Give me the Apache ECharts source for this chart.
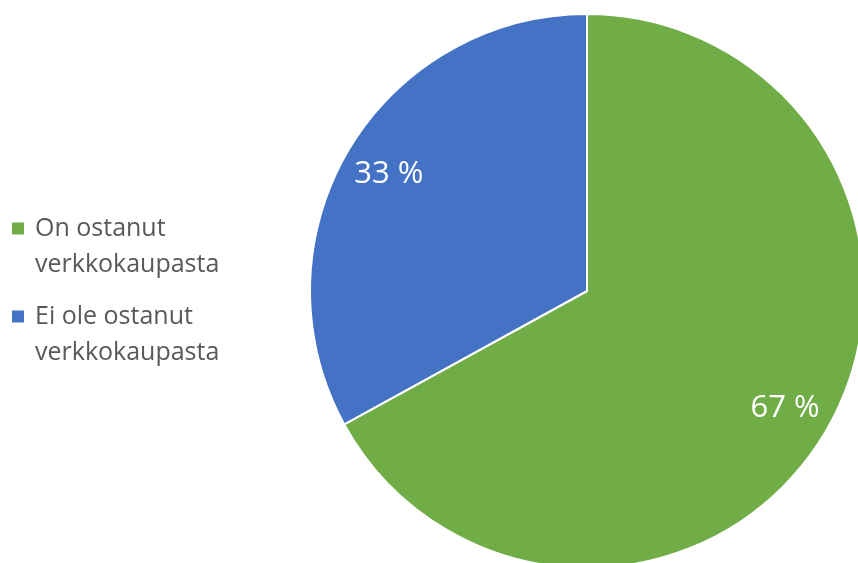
<!DOCTYPE html>
<html>
<head>
<meta charset="utf-8">
<style>
  html, body { margin: 0; padding: 0; background: #fff; }
  #chart { width: 858px; height: 563px; }
</style>
<script src="https://cdn.jsdelivr.net/npm/echarts@6/dist/echarts.min.js"></script>
</head>
<body>
<div id="chart"></div>
<script>
// Share of respondents who have bought from an online shop
const categories = ['On ostanut verkkokaupasta', 'Ei ole ostanut verkkokaupasta'];
const shares = [67, 33];
const colors = ['#70AD47', '#4472C4'];

const FONT = '"Open Sans", sans-serif';
const CENTER = [587, 291];
const R = 277;
const LINE_H = 36;

const pieData = categories.map((name, i) => ({
  name: name,
  value: shares[i],
  itemStyle: { color: colors[i] }
}));

// Legend labels wrap before the last word; each line is a rich-text run
function wrapName(name) {
  const words = name.split(' ');
  return '{t|' + words.slice(0, -1).join(' ') + '}\n{t|' + words[words.length - 1] + '}';
}

// one legend per entry so each can be placed on its own
const legendTop = [211, 299];

const chart = echarts.init(document.getElementById('chart'), null, { renderer: 'canvas' });
chart.setOption({
  animation: false,
  legend: categories.map((name, i) => ({
    data: [name],
    left: 5,
    top: legendTop[i],
    orient: 'vertical',
    icon: 'rect',
    itemWidth: 14,
    itemHeight: 14,
    itemGap: 0,
    selectedMode: false,
    formatter: wrapName,
    textStyle: {
      // top padding keeps the marker level with the first line
      padding: [LINE_H, 0, 0, 5],
      rich: {
        t: {
          fontFamily: FONT,
          fontSize: 25,
          color: '#595959',
          lineHeight: LINE_H
        }
      }
    }
  })),
  series: [
    {
      type: 'pie',
      center: CENTER,
      radius: [0, R],
      startAngle: 90,
      clockwise: true,
      data: pieData,
      label: { show: false },
      labelLine: { show: false },
      itemStyle: { borderColor: '#fff', borderWidth: 2 },
      emphasis: { disabled: true }
    },
    {
      // transparent ring carrying the percentage labels
      type: 'pie',
      center: CENTER,
      radius: [R * 0.64, R],
      startAngle: 90,
      clockwise: true,
      silent: true,
      data: pieData.map(d => ({ name: d.name, value: d.value })),
      itemStyle: { color: 'rgba(0,0,0,0)', borderWidth: 0 },
      label: {
        show: true,
        position: 'inside',
        formatter: p => p.value + ' %',
        color: '#fff',
        fontFamily: FONT,
        fontSize: 31
      },
      labelLine: { show: false },
      emphasis: { disabled: true }
    }
  ]
});
</script>
</body>
</html>
